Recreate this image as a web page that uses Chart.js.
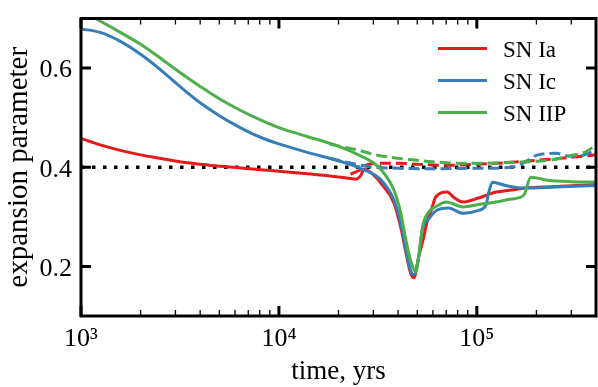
<!DOCTYPE html>
<html><head><meta charset="utf-8">
<script src="https://cdn.jsdelivr.net/npm/chart.js@4.4.0/dist/chart.umd.min.js"></script>
<style>html,body{margin:0;padding:0;background:#fff;overflow:hidden}canvas{display:block}</style>
</head><body>
<canvas id="c" width="598" height="387"></canvas>
<script>
// ---- data ----
const seriesNames = ['SN Ia', 'SN Ic', 'SN IIP'];
const seriesColors = ['#e41a1c', '#377eb8', '#4daf4a'];

// solid curves
const tIa = [1000,1250,1580,2000,2500,3160,4000,5000,6300,8000,10000,14000,20600,24500,25800,27000,30000,32700,38100,41300,43800,46400,48100,50900,54000,56000,59000,62000,71000,76000,85000,102000,125000,150000,175000,250000,400000];
const yIa = [0.458,0.445,0.434,0.425,0.418,0.411,0.406,0.402,0.399,0.395,0.392,0.387,0.380,0.376,0.382,0.396,0.385,0.368,0.328,0.278,0.228,0.185,0.177,0.220,0.260,0.290,0.315,0.340,0.350,0.340,0.330,0.338,0.350,0.354,0.358,0.361,0.365];

const tIc = [1000,1250,1580,2000,2500,3160,4000,5000,6300,8000,10000,13900,20400,26800,32700,38100,41300,43800,46400,48100,50900,53000,57000,62000,72000,85000,102000,111000,115000,120000,140000,173000,250000,400000];
const yIc = [0.679,0.672,0.654,0.628,0.598,0.563,0.530,0.504,0.481,0.461,0.447,0.430,0.412,0.395,0.375,0.334,0.287,0.233,0.190,0.183,0.220,0.275,0.295,0.312,0.318,0.307,0.313,0.323,0.350,0.370,0.363,0.358,0.360,0.363];

const tIIP = [1000,1250,1580,2000,2500,3160,4000,5000,6300,8000,10000,13900,20400,26800,30000,32700,38100,41300,43800,46400,49200,51000,53400,57200,63000,70000,85000,102000,125000,150000,173000,187000,228000,300000,400000];
const yIIP = [0.716,0.695,0.672,0.648,0.621,0.591,0.563,0.538,0.516,0.496,0.480,0.462,0.441,0.420,0.409,0.396,0.354,0.307,0.253,0.210,0.189,0.225,0.283,0.310,0.322,0.330,0.320,0.325,0.330,0.336,0.344,0.380,0.374,0.371,0.370];

// dashed curves
const tIaD = [23000,25500,28000,32000,40000,50000,70000,100000,150000,200000,300000,400000];
const yIaD = [0.386,0.394,0.405,0.408,0.408,0.406,0.404,0.406,0.410,0.414,0.420,0.425];

const tIcD = [18000,22000,26000,30000,40000,60000,100000,150000,175000,200000,250000,300000,350000,400000];
const yIcD = [0.418,0.410,0.404,0.400,0.398,0.397,0.398,0.400,0.410,0.424,0.428,0.422,0.425,0.435];

const tIIPD = [18000,20400,25000,30000,40000,50000,60000,80000,100000,150000,200000,250000,300000,350000,400000];
const yIIPD = [0.447,0.442,0.435,0.426,0.418,0.414,0.411,0.408,0.408,0.410,0.412,0.416,0.424,0.430,0.445];

// reference line
const refLevel = 0.4;

// axes
const xMin = 1000, xMax = 400000;
const yMin = 0.1, yMax = 0.7;
const xMajorTicks = [1000, 10000, 100000];
const xTickLabels = ['10\u00B3', '10\u2074', '10\u2075'];
const yTicks = [0.2, 0.4, 0.6];
const yTickLabels = ['0.2', '0.4', '0.6'];

// ---- chart ----
const FONT = '"Liberation Serif", "DejaVu Serif", serif';
const pts = (t, y) => t.map((v, i) => ({x: v, y: y[i]}));

function solid(data, color) {
  return {data, borderColor: color, backgroundColor: color, borderWidth: 3, pointRadius: 0,
    cubicInterpolationMode: 'monotone', fill: false, borderCapStyle: 'round', borderJoinStyle: 'round'};
}
function dashed(data, color) {
  return {data, borderColor: color, backgroundColor: color, borderWidth: 3, pointRadius: 0,
    cubicInterpolationMode: 'monotone', fill: false, borderDash: [11, 5], borderCapStyle: 'butt'};
}

// minor + major tick positions for the log axis (1..9 x 10^n)
const xAllTicks = [];
for (let e = 3; e <= 5; e++) for (let m = 1; m <= 9; m++) {
  const v = m * Math.pow(10, e);
  if (v >= xMin && v <= xMax) xAllTicks.push(v);
}

function noPad(s) { s.paddingTop = 0; s.paddingBottom = 0; s.paddingLeft = 0; s.paddingRight = 0; }

const framePlugin = {
  id: 'frame',
  afterDraw(chart) {
    const {ctx, chartArea: a, scales: {x, y}} = chart;
    ctx.save();
    ctx.strokeStyle = '#000';
    ctx.lineCap = 'butt';
    x.ticks.forEach(t => {
      const px = x.getPixelForValue(t.value);
      const major = xMajorTicks.includes(t.value);
      const len = major ? 10 : 6;
      ctx.lineWidth = major ? 3 : 1.3;
      ctx.beginPath();
      ctx.moveTo(px, a.bottom); ctx.lineTo(px, a.bottom - len);
      ctx.moveTo(px, a.top); ctx.lineTo(px, a.top + len);
      ctx.stroke();
    });
    y.ticks.forEach(t => {
      const py = y.getPixelForValue(t.value);
      ctx.lineWidth = 3;
      ctx.beginPath();
      ctx.moveTo(a.left, py); ctx.lineTo(a.left + 10, py);
      ctx.moveTo(a.right, py); ctx.lineTo(a.right - 10, py);
      ctx.stroke();
    });
    ctx.lineWidth = 3;
    ctx.strokeRect(a.left, a.top, a.right - a.left, a.bottom - a.top);

    // legend (inside the axes, upper right)
    ctx.font = '23px ' + FONT;
    ctx.textBaseline = 'alphabetic';
    ctx.textAlign = 'left';
    ctx.fillStyle = '#000';
    const x0 = a.right - 158, x1 = a.right - 109, xt = a.right - 93;
    seriesNames.forEach((name, i) => {
      const base = a.top + 38.5 + i * 32;
      ctx.strokeStyle = seriesColors[i];
      ctx.lineWidth = 3;
      ctx.beginPath(); ctx.moveTo(x0, base - 8.5); ctx.lineTo(x1, base - 8.5); ctx.stroke();
      ctx.fillText(name, xt, base);
    });
    ctx.restore();
  }
};

new Chart(document.getElementById('c'), {
  type: 'line',
  data: {
    datasets: [
      solid(pts(tIIP, yIIP), seriesColors[2]),
      solid(pts(tIc, yIc), seriesColors[1]),
      solid(pts(tIa, yIa), seriesColors[0]),
      dashed(pts(tIIPD, yIIPD), seriesColors[2]),
      dashed(pts(tIcD, yIcD), seriesColors[1]),
      dashed(pts(tIaD, yIaD), seriesColors[0]),
      {data: [{x: xMin, y: refLevel}, {x: xMax, y: refLevel}], borderColor: '#000', borderWidth: 3.5,
       borderDash: [3.5, 7.5], pointRadius: 0, fill: false, borderCapStyle: 'butt'}
    ]
  },
  options: {
    responsive: false,
    animation: false,
    devicePixelRatio: 1,
    layout: {padding: {top: 18.5, right: 2, left: 0, bottom: 0}},
    plugins: {legend: {display: false}, tooltip: {enabled: false}},
    scales: {
      x: {
        type: 'logarithmic', min: xMin, max: xMax,
        afterBuildTicks(s) { s.ticks = xAllTicks.map(v => ({value: v})); },
        afterFit(s) { s.height = 71; noPad(s); },
        grid: {display: false, drawTicks: false},
        border: {display: false},
        ticks: {
          autoSkip: false, maxRotation: 0, minRotation: 0, padding: 8, color: '#000',
          font: {family: FONT, size: 26},
          callback(v) { const i = xMajorTicks.indexOf(v); return i >= 0 ? xTickLabels[i] : ''; }
        },
        title: {display: true, text: 'time, yrs', color: '#000', font: {family: FONT, size: 27},
                padding: {top: 0, bottom: -1}}
      },
      y: {
        type: 'linear', min: yMin, max: yMax,
        afterBuildTicks(s) { s.ticks = yTicks.map(v => ({value: v})); },
        afterFit(s) { s.width = 81; noPad(s); },
        grid: {display: false, drawTicks: false},
        border: {display: false},
        ticks: {
          padding: 9, labelOffset: 2.5, color: '#000',
          font: {family: FONT, size: 26},
          callback(v) { const i = yTicks.findIndex(t => Math.abs(t - v) < 1e-9); return i >= 0 ? yTickLabels[i] : ''; }
        },
        title: {display: true, text: 'expansion parameter', color: '#000', font: {family: FONT, size: 29},
                padding: {top: 2, bottom: 0}}
      }
    }
  },
  plugins: [framePlugin]
});
</script>
</body></html>
